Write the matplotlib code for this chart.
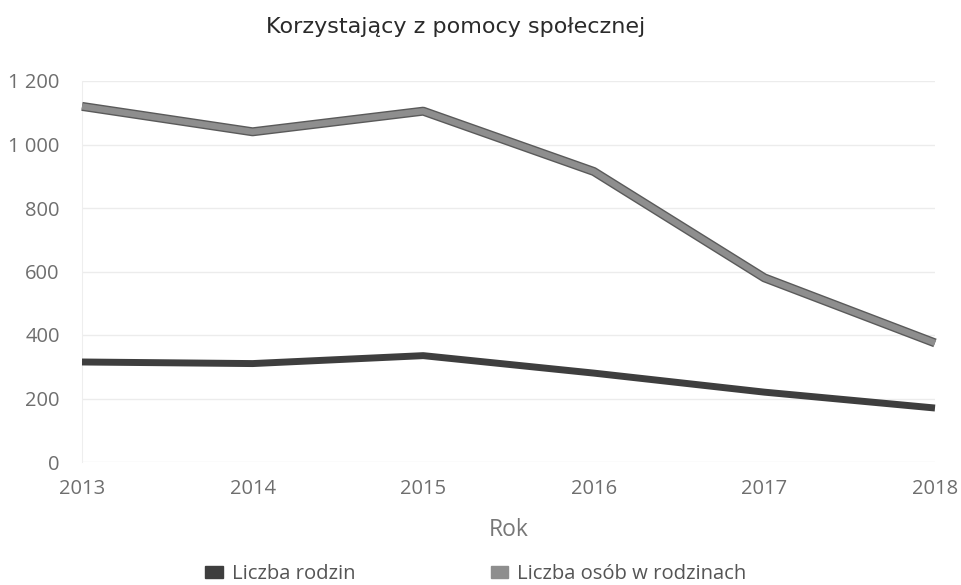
import matplotlib.pyplot as plt
import matplotlib.patheffects as pe
from matplotlib.patches import Patch
from matplotlib.ticker import FuncFormatter

years = [2013, 2014, 2015, 2016, 2017, 2018]
rodziny = [315, 310, 335, 280, 220, 170]
osoby = [1120, 1040, 1105, 915, 580, 375]

plt.rcParams['font.family'] = ['Open Sans', 'DejaVu Sans']

W, H = 962, 585
fig = plt.figure(figsize=(W / 100, H / 100), dpi=100)
ax = fig.add_axes([82 / W, (H - 462) / H, (935 - 82) / W, (462 - 81) / H])

ax.plot(years, rodziny, color='#3e3e3e', lw=5, solid_capstyle='butt', clip_on=False, zorder=3)
ax.plot(years, osoby, color='#8e8e8e', lw=4.5, solid_capstyle='butt', clip_on=False, zorder=3,
        path_effects=[pe.Stroke(linewidth=6.5, foreground='#5a5a5a'), pe.Normal()])

ax.set_xlim(2013, 2018)
ax.set_ylim(0, 1200)
ax.set_yticks(range(0, 1201, 200))
ax.yaxis.set_major_formatter(FuncFormatter(lambda v, p: f'{int(v):,}'.replace(',', ' ')))
ax.set_xticks(years)
ax.set_xticklabels([str(y) for y in years])
ax.tick_params(length=0, colors='#6e6e6e', labelsize=14.5)
ax.tick_params(axis='y', pad=16)
ax.tick_params(axis='x', pad=12)

ax.grid(axis='y', color='#ececec', lw=1)
for s in ['top', 'right', 'bottom']:
    ax.spines[s].set_visible(False)
ax.spines['left'].set_color('#eeeeee')

ax.set_xlabel('Rok', fontsize=16.5, color='#777777', labelpad=14)
fig.text(456 / W, 1 - 27 / H, 'Korzystający z pomocy społecznej', ha='center', va='center',
         fontsize=16, color='#2a2a2a', family='DejaVu Sans')

handles = [Patch(color='#3e3e3e', label='Liczba rodzin'),
           Patch(color='#8e8e8e', label='Liczba osób w rodzinach')]
fig.legend(handles=handles, loc='center', bbox_to_anchor=(476 / W, 1 - 574 / H), ncol=2,
           frameon=False, fontsize=14.6, labelcolor='#555555', handlelength=0.85,
           handleheight=0.5, handletextpad=0.45, columnspacing=6.7,
           borderpad=0, borderaxespad=0)

fig.savefig('out.png', dpi=100)
